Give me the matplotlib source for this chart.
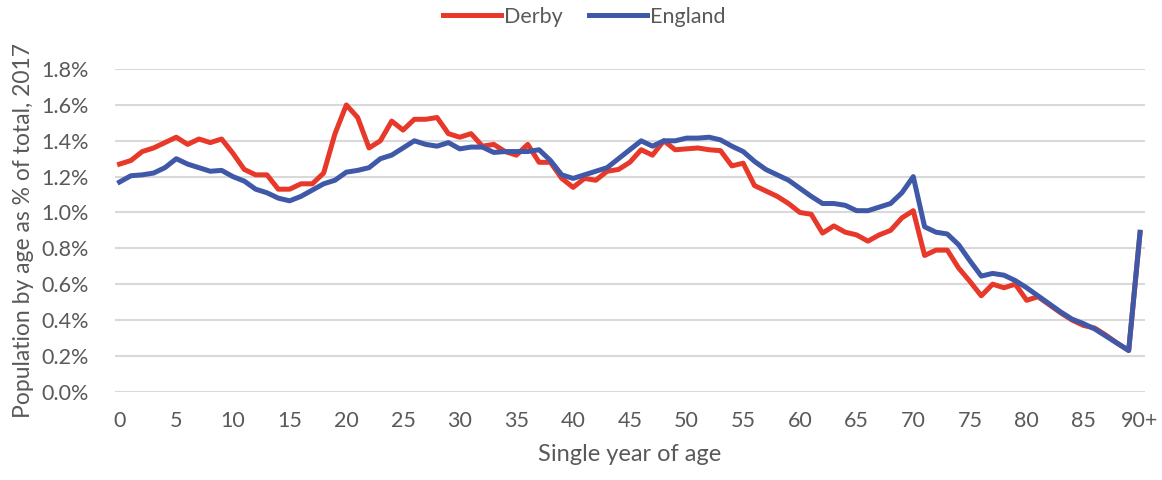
import matplotlib
matplotlib.use("Agg")
import matplotlib.pyplot as plt
import numpy as np

# Share of population at each single year of age, 2017 (% of total)
ages = list(range(91))
age_ticks = list(range(0, 91, 5))
age_tick_labels = [str(a) for a in range(0, 90, 5)] + ["90+"]

derby = [
    1.27, 1.29, 1.34, 1.36, 1.39, 1.42, 1.38, 1.41, 1.39, 1.41,
    1.33, 1.24, 1.21, 1.21, 1.13, 1.13, 1.16, 1.16, 1.22, 1.44,
    1.60, 1.53, 1.36, 1.40, 1.51, 1.46, 1.52, 1.52, 1.53, 1.44,
    1.42, 1.44, 1.37, 1.38, 1.34, 1.32, 1.38, 1.28, 1.28, 1.19,
    1.14, 1.19, 1.18, 1.23, 1.24, 1.28, 1.35, 1.32, 1.40, 1.35,
    1.355, 1.36, 1.35, 1.345, 1.26, 1.275, 1.15, 1.12, 1.09, 1.05,
    1.00, 0.99, 0.885, 0.925, 0.89, 0.875, 0.84, 0.875, 0.90, 0.97,
    1.01, 0.76, 0.79, 0.79, 0.69, 0.615, 0.535, 0.60, 0.58, 0.60,
    0.51, 0.53, 0.485, 0.44, 0.40, 0.37, 0.355, 0.315, 0.27, 0.23,
    0.885,
]

england = [
    1.17, 1.205, 1.21, 1.22, 1.25, 1.30, 1.27, 1.25, 1.23, 1.235,
    1.20, 1.175, 1.13, 1.11, 1.08, 1.065, 1.09, 1.125, 1.16, 1.18,
    1.225, 1.235, 1.25, 1.30, 1.32, 1.36, 1.40, 1.38, 1.37, 1.39,
    1.355, 1.365, 1.365, 1.335, 1.34, 1.34, 1.34, 1.35, 1.29, 1.21,
    1.19, 1.21, 1.23, 1.25, 1.30, 1.35, 1.40, 1.37, 1.40, 1.40,
    1.415, 1.415, 1.42, 1.405, 1.37, 1.34, 1.285, 1.24, 1.21, 1.18,
    1.135, 1.09, 1.05, 1.05, 1.04, 1.01, 1.01, 1.03, 1.05, 1.11,
    1.20, 0.92, 0.89, 0.88, 0.82, 0.73, 0.645, 0.66, 0.65, 0.62,
    0.58, 0.535, 0.49, 0.445, 0.405, 0.38, 0.35, 0.31, 0.27, 0.23,
    0.89,
]

text_col = "#595959"
plt.rcParams["font.family"] = ["Lato", "DejaVu Sans"]

fig = plt.figure(figsize=(11.62, 4.8), dpi=100)
ax = fig.add_axes([0.099, 0.184, 0.886, 0.672])

ax.plot(ages, derby, color="#E8382A", lw=3.6, label="Derby", solid_joinstyle="round")
ax.plot(ages, england, color="#3F59A8", lw=3.6, label="England", solid_joinstyle="round")

ax.set_xlim(-0.4, 90.4)
ax.set_ylim(0, 1.8)
ax.set_yticks(np.arange(0, 1.81, 0.2))
ax.set_yticklabels([f"{v:.1f}%" for v in np.arange(0, 1.81, 0.2)])
ax.set_xticks(age_ticks)
ax.set_xticklabels(age_tick_labels)

ax.grid(axis="y", color="#D9D9D9", lw=1.5)
ax.set_axisbelow(True)
for s in ax.spines.values():
    s.set_visible(False)
ax.tick_params(length=0, labelsize=15.5, colors=text_col)
ax.tick_params(axis="y", pad=19)
ax.tick_params(axis="x", pad=14)

ax.set_xlabel("Single year of age", fontsize=17, color=text_col, labelpad=9)
ax.set_ylabel("Population by age as % of total, 2017", fontsize=16.5, color=text_col, labelpad=5)

fig.legend(loc="center", bbox_to_anchor=(0.503, 0.965), ncol=2, frameon=False,
           fontsize=15.5, handlelength=2.7, handletextpad=0.15, columnspacing=1.2,
           labelcolor=text_col)

fig.savefig("out.png", dpi=100)
